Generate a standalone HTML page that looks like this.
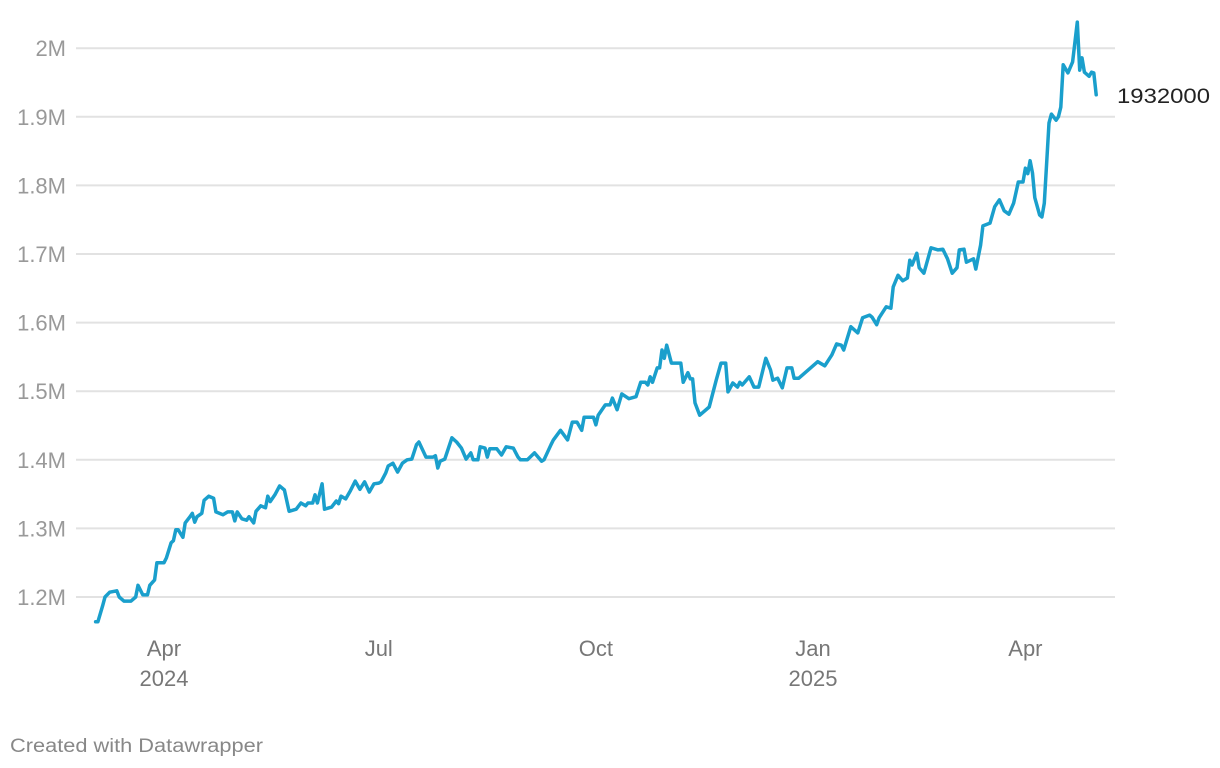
<!DOCTYPE html>
<html><head><meta charset="utf-8"><style>
body{margin:0;background:#fff;font-family:"Liberation Sans",sans-serif;}
svg{display:block}
</style></head><body>
<svg width="1220" height="768">
<g id="grid"></g><g id="ylabels"></g><g id="xlabels"></g>
<path id="line" fill="none" stroke="#1a9fcc" stroke-width="3.5" stroke-linejoin="round" stroke-linecap="round"/>
<text id="endlabel" x="1117" y="104" font-size="21" fill="#222" textLength="93" lengthAdjust="spacingAndGlyphs">1932000</text>
<text x="10" y="752" font-size="19" fill="#888" textLength="253" lengthAdjust="spacingAndGlyphs">Created with Datawrapper</text>
</svg>
<script>
const days=[-29,-28,-26,-25,-23,-20,-19,-17,-14,-12,-11,-9,-7,-6,-4,-3,0,1,3,4,5,6,8,9,11,12,13,14,16,17,19,21,22,25,27,29,30,31,33,35,36,38,39,41,43,44,45,47,49,51,53,56,58,60,61,63,64,65,67,68,71,73,74,75,77,79,81,83,85,87,89,91,92,94,95,97,99,101,103,105,107,108,111,114,115,116,117,119,122,124,126,128,130,131,133,134,136,137,138,141,143,145,148,150,151,154,157,160,161,164,165,168,171,173,175,177,178,182,183,184,187,189,190,192,194,197,200,202,204,205,206,207,209,210,211,212,213,215,219,220,222,223,224,225,227,231,234,236,238,239,241,243,244,245,248,250,252,255,257,258,260,262,264,266,267,269,277,280,283,285,287,288,291,294,296,299,300,302,303,306,308,309,311,313,315,316,317,319,320,322,325,328,330,332,334,336,337,339,340,343,344,346,347,350,352,354,356,358,360,362,364,365,366,367,368,369,371,372,373,375,376,378,379,380,381,383,385,387,388,389,390,392,393,394,395];
const values=[1164,1164,1187,1200,1207,1209,1200,1194,1194,1200,1217,1203,1203,1217,1225,1250,1250,1257,1279,1282,1298,1298,1287,1308,1317,1322,1309,1317,1322,1341,1347,1344,1324,1320,1324,1324,1311,1324,1314,1312,1317,1308,1325,1333,1330,1347,1339,1349,1362,1356,1325,1328,1337,1333,1337,1337,1349,1337,1365,1328,1331,1340,1336,1347,1343,1355,1369,1357,1368,1353,1365,1366,1368,1381,1391,1395,1382,1395,1400,1401,1422,1426,1404,1404,1406,1388,1398,1401,1432,1426,1417,1401,1410,1400,1400,1419,1417,1404,1416,1416,1407,1419,1417,1404,1400,1400,1410,1398,1400,1422,1429,1443,1429,1455,1455,1443,1462,1462,1451,1465,1480,1480,1490,1473,1496,1489,1492,1513,1513,1509,1521,1513,1534,1534,1560,1548,1567,1541,1541,1513,1527,1518,1518,1483,1465,1477,1516,1541,1541,1499,1512,1506,1513,1509,1521,1506,1506,1548,1531,1516,1519,1505,1534,1534,1519,1519,1543,1537,1553,1569,1567,1560,1594,1585,1607,1611,1608,1597,1607,1623,1621,1652,1669,1661,1665,1691,1684,1701,1680,1672,1709,1706,1707,1693,1672,1680,1706,1707,1688,1693,1678,1713,1741,1745,1769,1779,1763,1758,1774,1805,1805,1825,1817,1836,1818,1782,1757,1754,1774,1891,1904,1895,1900,1914,1976,1964,1980,2038,1968,1986,1965,1959,1965,1964,1932];
const yTicks=[1200,1300,1400,1500,1600,1700,1800,1900,2000];
const yTickLabels=["1.2M","1.3M","1.4M","1.5M","1.6M","1.7M","1.8M","1.9M","2M"];
const xTickDays=[0,91,183,275,365];
const xTickLabels=["Apr","Jul","Oct","Jan","Apr"];
const xTickYears=["2024","","","2025",""];
const NS="http://www.w3.org/2000/svg";
const xs=d=>164+d*2.36;
const ys=v=>597-(v-1200)*0.686;
const grid=document.getElementById('grid'),yl=document.getElementById('ylabels'),xl=document.getElementById('xlabels');
yTicks.forEach((t,i)=>{
 const l=document.createElementNS(NS,'line');
 l.setAttribute('x1',76);l.setAttribute('x2',1115);l.setAttribute('y1',ys(t));l.setAttribute('y2',ys(t));
 l.setAttribute('stroke','#e2e2e2');l.setAttribute('stroke-width','2');
 
 
 grid.appendChild(l);
 const tx=document.createElementNS(NS,'text');
 tx.setAttribute('x',66);tx.setAttribute('y',ys(t)+8);tx.setAttribute('text-anchor','end');
 tx.setAttribute('font-size','22');tx.setAttribute('fill','#999');
 tx.textContent=yTickLabels[i];
 
 
 yl.appendChild(tx);
});
xTickDays.forEach((d,i)=>{
 const tx=document.createElementNS(NS,'text');
 tx.setAttribute('x',xs(d));tx.setAttribute('y',656);tx.setAttribute('text-anchor','middle');
 tx.setAttribute('font-size','22');tx.setAttribute('fill','#777');
 tx.textContent=xTickLabels[i];
 
 
 xl.appendChild(tx);
 if(xTickYears[i]){
  const y=document.createElementNS(NS,'text');
  y.setAttribute('x',xs(d));y.setAttribute('y',686);y.setAttribute('text-anchor','middle');
  y.setAttribute('font-size','22');y.setAttribute('fill','#777');
  y.textContent=xTickYears[i];
  
  
  xl.appendChild(y);
 }
});
document.getElementById('line').setAttribute('d',days.map((d,i)=>(i?'L':'M')+xs(d).toFixed(1)+','+ys(values[i]).toFixed(1)).join(''));
const last=values[values.length-1];
document.getElementById('endlabel').setAttribute('y',ys(last)+8);
document.getElementById('endlabel').textContent=String(last*1000);
</script>
</body></html>
